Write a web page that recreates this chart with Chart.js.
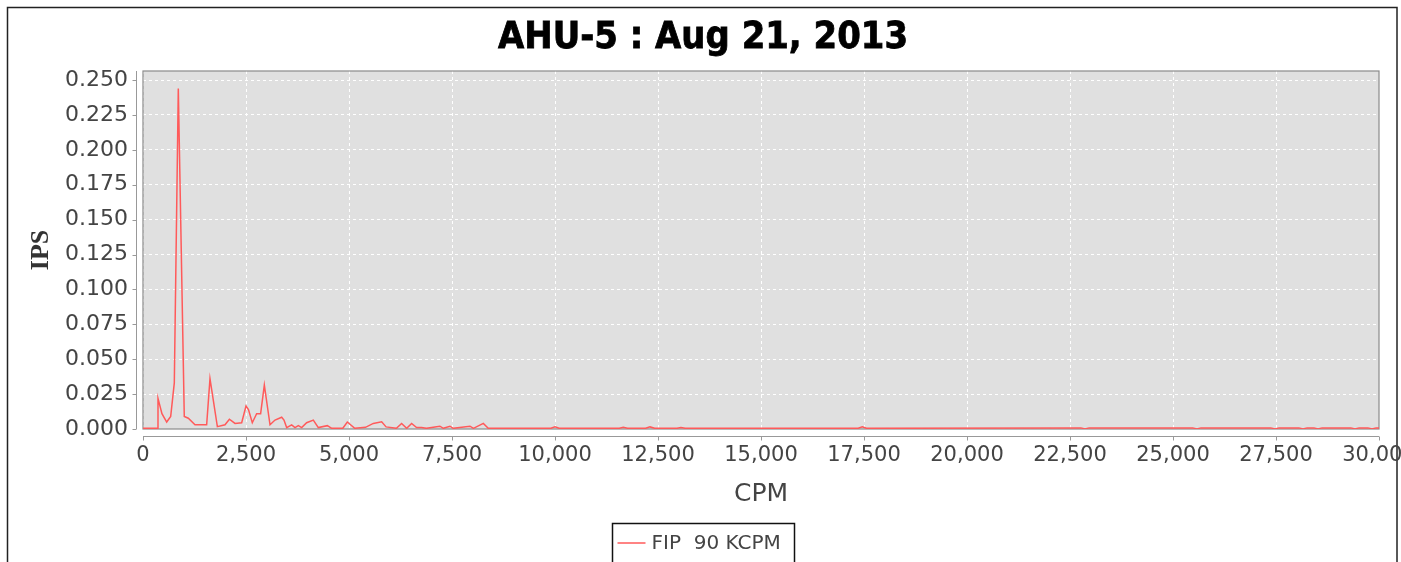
<!DOCTYPE html>
<html>
<head>
<meta charset="utf-8">
<script src="https://cdn.jsdelivr.net/npm/chart.js@4/dist/chart.umd.min.js"></script>
<style>
html,body{margin:0;padding:0;background:#fff;}
#wrap{width:1401px;height:562px;position:relative;}
</style>
</head>
<body>
<div id="wrap"><canvas id="c" width="1401" height="562"></canvas></div>
<script>
const chartTitle = 'AHU-5 : Aug 21, 2013';
const seriesLabel = 'FIP  90 KCPM';
const xTitle = 'CPM';
const yTitle = 'IPS';
const xTicks = [0,2500,5000,7500,10000,12500,15000,17500,20000,22500,25000,27500,30000];
const yTicks = [0,0.025,0.05,0.075,0.1,0.125,0.15,0.175,0.2,0.225,0.25];

const cpm = [0,340,364,460,575,672,760,857,1002,1100,1262,1545,1626,1805,1990,2097,2233,2395,2500,2560,2653,2758,2855,2945,3083,3204,3366,3422,3487,3608,3689,3770,3851,3972,4134,4256,4474,4580,4850,4959,5140,5400,5590,5793,5900,6150,6277,6400,6520,6640,6760,6880,7206,7290,7451,7530,7937,8020,8260,8380,9900,10000,10100,11560,11658,11760,12200,12306,12420,12960,13058,13160,17360,17460,17560,22764,22864,22964,25480,25580,25680,27375,27475,27575,28055,28155,28255,28420,28520,28620,29317,29417,29517,29730,29830,29930,30000];
const ips = [0.0005,0.0005,0.022,0.011,0.005,0.009,0.033,0.244,0.009,0.0077,0.003,0.003,0.036,0.0017,0.003,0.007,0.004,0.0045,0.0165,0.014,0.0045,0.011,0.011,0.0315,0.003,0.0064,0.0084,0.0064,0.001,0.003,0.001,0.0024,0.001,0.0045,0.0064,0.001,0.0024,0.0005,0.0005,0.005,0.0005,0.0012,0.004,0.0052,0.0015,0.0005,0.004,0.0005,0.004,0.001,0.001,0.0005,0.002,0.0005,0.002,0.0005,0.002,0.0005,0.004,0.0005,0.0005,0.0015,0.0005,0.0005,0.0012,0.0005,0.0005,0.0015,0.0005,0.0005,0.001,0.0005,0.0005,0.0015,0.0005,0.0008,0,0.0008,0.0008,0,0.0008,0.0008,0,0.0008,0.0008,0,0.0008,0.0008,0,0.0008,0.0008,0,0.0008,0.0008,0,0.0008,0.0008];

const fmtX = v => Math.round(v).toString().replace(/\B(?=(\d{3})+(?!\d))/g, ',');
const tickFont = {family: 'DejaVu Sans', size: 21};
const yTickFont = {family: 'DejaVu Sans', size: 22};
const tickColor = '#444444';

const framePlugin = {
  id: 'frame',
  beforeDraw(chart) {
    const {ctx, chartArea: a} = chart;
    ctx.save();
    ctx.fillStyle = '#ffffff';
    ctx.fillRect(0, 0, chart.width, chart.height);
    ctx.strokeStyle = '#222';
    ctx.lineWidth = 1.5;
    ctx.strokeRect(7.5, 7.5, 1389.5, 600);
    ctx.fillStyle = '#E0E0E0';
    ctx.fillRect(a.left, a.top, a.right - a.left, a.bottom - a.top);
    ctx.font = 'bold 37px "DejaVu Sans"';
    const tw = ctx.measureText(chartTitle).width;
    const sx = 410 / tw;
    ctx.translate(703, 48);
    ctx.scale(sx, 1);
    ctx.fillStyle = '#000';
    ctx.strokeStyle = '#000';
    ctx.lineWidth = 0.8;
    ctx.textAlign = 'center';
    ctx.textBaseline = 'alphabetic';
    ctx.fillText(chartTitle, 0, 0);
    ctx.strokeText(chartTitle, 0, 0);
    ctx.restore();
  },
  beforeDatasetsDraw(chart) {
    const {ctx, chartArea: a, scales} = chart;
    ctx.save();
    ctx.strokeStyle = '#8a8a8a';
    ctx.lineWidth = 1.2;
    ctx.strokeRect(a.left, a.top, a.right - a.left, a.bottom - a.top);
    ctx.strokeStyle = '#999999';
    ctx.lineWidth = 1;
    const ax = a.left - 6.5;
    ctx.beginPath();
    ctx.moveTo(ax, a.top); ctx.lineTo(ax, a.bottom);
    scales.y.ticks.forEach(t => {
      const py = Math.round(scales.y.getPixelForValue(t.value)) + 0.5;
      ctx.moveTo(ax - 4, py); ctx.lineTo(ax, py);
    });
    const ay = a.bottom + 7.5;
    ctx.moveTo(a.left, ay); ctx.lineTo(a.right, ay);
    scales.x.ticks.forEach(t => {
      const px = Math.round(scales.x.getPixelForValue(t.value)) + 0.5;
      ctx.moveTo(px, ay); ctx.lineTo(px, ay + 4);
    });
    ctx.stroke();
    ctx.restore();
  },
  afterDraw(chart) {
    const {ctx} = chart;
    const ds = chart.data.datasets[0];
    ctx.save();
    ctx.font = '20px "DejaVu Sans"';
    const tw = ctx.measureText(ds.label).width;
    const w = 5 + 28 + 6 + tw + 9;
    const x0 = 612.5;
    const y0 = 523.5;
    ctx.strokeStyle = '#111';
    ctx.lineWidth = 1.5;
    ctx.strokeRect(x0, y0, Math.max(w, 182), 60);
    ctx.strokeStyle = ds.borderColor;
    ctx.lineWidth = 1.5;
    ctx.beginPath();
    ctx.moveTo(x0 + 5, 543); ctx.lineTo(x0 + 33, 543);
    ctx.stroke();
    ctx.fillStyle = tickColor;
    ctx.textBaseline = 'middle';
    ctx.fillText(ds.label, x0 + 39, 544);
    ctx.restore();
  }
};

new Chart(document.getElementById('c'), {
  type: 'line',
  data: {
    datasets: [{
      label: seriesLabel,
      data: cpm.map((x, i) => ({x: x, y: ips[i]})),
      borderColor: '#FF5A5A',
      borderWidth: 1.5,
      pointRadius: 0,
      tension: 0,
      fill: false
    }]
  },
  options: {
    responsive: false,
    animation: false,
    devicePixelRatio: 1,
    layout: {padding: {left: 0, right: 22, top: 71, bottom: 0}},
    plugins: {
      legend: {display: false},
      tooltip: {enabled: false},
      title: {display: false}
    },
    scales: {
      x: {
        type: 'linear',
        min: 0, max: 30000,
        afterBuildTicks: s => { s.ticks = xTicks.map(v => ({value: v})); },
        afterFit: s => { s.height = 133; s.paddingLeft = 0; s.paddingRight = 0; },
        ticks: {
          autoSkip: false, maxRotation: 0, padding: 14,
          color: tickColor, font: tickFont,
          callback: v => fmtX(v)
        },
        grid: {color: '#ffffff', lineWidth: 1, drawTicks: false},
        border: {display: false, dash: [3, 3]},
        title: {
          display: true, text: xTitle, color: tickColor,
          font: {family: 'DejaVu Sans', size: 25, lineHeight: 1.2},
          padding: {top: 53, bottom: 53}
        }
      },
      y: {
        type: 'linear',
        min: 0, max: 0.2565,
        afterBuildTicks: s => { s.ticks = yTicks.map(v => ({value: v})); },
        afterFit: s => { s.width = 143; s.paddingTop = 0; s.paddingBottom = 0; },
        ticks: {
          autoSkip: false, padding: 15,
          color: tickColor, font: yTickFont,
          callback: v => Number(v).toFixed(3)
        },
        grid: {color: '#ffffff', lineWidth: 1, drawTicks: false},
        border: {display: false, dash: [3, 3]},
        title: {
          display: true, text: yTitle, color: '#333',
          font: {family: 'Liberation Serif', size: 26, weight: 'bold', lineHeight: 1.2},
          padding: {top: 26, bottom: 26}
        }
      }
    }
  },
  plugins: [framePlugin]
});
</script>
</body>
</html>
